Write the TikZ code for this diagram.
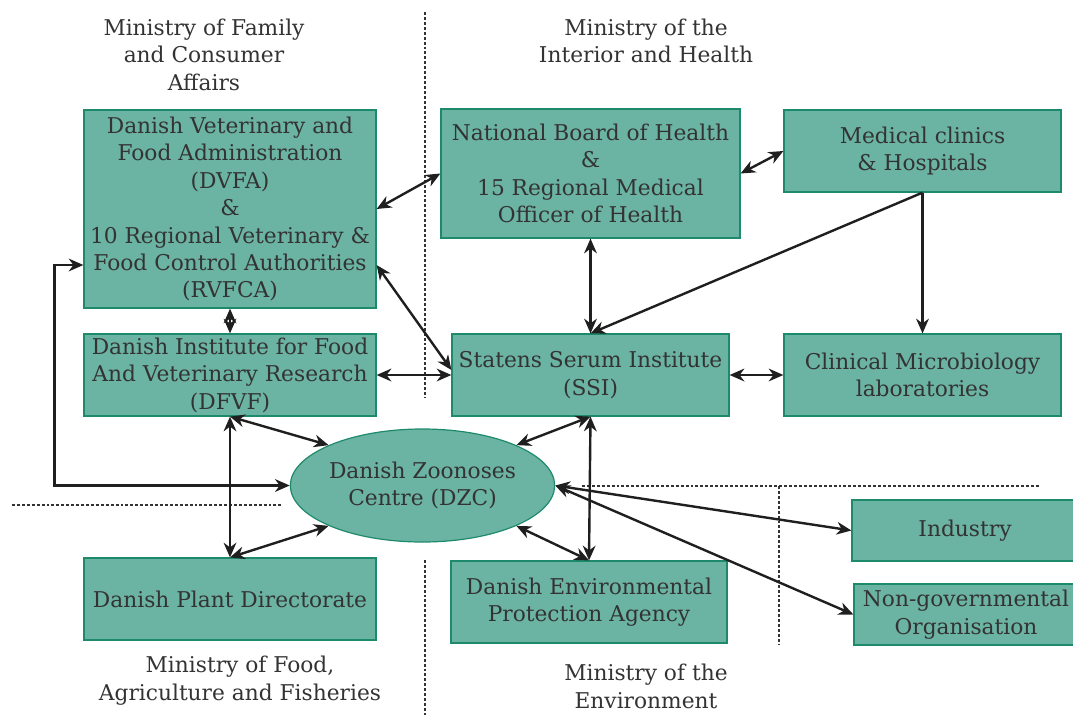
\documentclass[tikz,border=0pt]{standalone}
\usepackage{fontspec}
\setmainfont{DejaVu Serif}
\usetikzlibrary{arrows.meta,shapes.geometric,calc}
\definecolor{boxfill}{HTML}{6BB3A3}
\definecolor{boxline}{HTML}{1E8A6C}
\definecolor{txt}{HTML}{333333}
\tikzset{tip/.tip={Stealth[length=11pt,width=9.5pt,inset=3.5pt]}}
\begin{document}
\begin{tikzpicture}[x=0.75pt,y=-0.75pt,
  every node/.style={font=\fontsize{16.3}{20.6}\selectfont, text=txt, align=center, inner sep=0pt},
  org/.style 2 args={draw=boxline, line width=0.9pt, fill=boxfill, rectangle, minimum width={#1*0.75pt}, minimum height={#2*0.75pt}},
  conn/.style={line width=1.8pt, draw=black!88, tip-tip},
  oneway/.style={line width=1.8pt, draw=black!88, -tip},
  sep/.style={line width=0.9pt, draw=black!80, dash pattern=on 2.2pt off 1.5pt}]
\useasboundingbox (0,0) rectangle (1073,717);

% separators
\draw[sep] (425,12) coordinate (v1a) -- (425,398) coordinate (v1b);
\draw[sep] (425,560) coordinate (v2a) -- (425,715) coordinate (v2b);
\draw[sep] (12,505) coordinate (h1a) -- (283,505) coordinate (h1b);
\draw[sep] (582,486) coordinate (h2a) -- (1040,486) coordinate (h2b);
\draw[sep] (779,486) coordinate (v3a) -- (779,645) coordinate (v3b);

% ministries
\node (m1) at (204,54.5) {Ministry of Family\\and Consumer\\Affairs};
\node (m2) at (646,41) {Ministry of the\\Interior and Health};
\node (m3) at (240,680.5) {Ministry of Food,\\Agriculture and Fisheries};
\node (m4) at (646,686.5) {Ministry of the\\Environment};

% boxes
\node[org={292}{198}] (dvfa) at (230,209) {Danish Veterinary and\\Food Administration\\(DVFA)\\\&\\10 Regional Veterinary \&\\Food Control Authorities\\(RVFCA)};
\node[org={299}{129}] (nbh) at (590.5,173.5) {National Board of Health\\\&\\15 Regional Medical\\Officer of Health};
\node[org={277}{82}] (med) at (922.5,151) {Medical clinics\\\& Hospitals};
\node[org={292}{82}] (dfvf) at (230,375) {Danish Institute for Food\\And Veterinary Research\\(DFVF)};
\node[org={277}{82}] (ssi) at (590.5,375) {Statens Serum Institute\\(SSI)};
\node[org={277}{82}] (cml) at (922.5,375) {Clinical Microbiology\\laboratories};
\node[org={292}{82}] (plant) at (230,599) {Danish Plant Directorate};
\node[org={276}{82}] (depa) at (589,602) {Danish Environmental\\Protection Agency};
\node[org={224}{61}] (ind) at (964,530.5) {};
\node (indt) at (965,530.5) {Industry};
\node[org={222}{61}] (ngo) at (965,614.5) {};
\node (ngot) at (966,614.5) {Non-governmental\\Organisation};
\node[ellipse, draw=boxline, line width=0.9pt, fill=boxfill, minimum width={263*0.75pt}, minimum height={113*0.75pt}] (dzc) at (422.5,485.5) {Danish Zoonoses\\Centre (DZC)};

% connectors
\draw[conn] (dvfa.east) -- (nbh.west);
\draw[conn] (nbh.east) -- (med.west);
\draw[oneway] (med.south) -- (cml.north);
\draw[oneway] (med.south) -- (ssi.north);
\draw[conn] (nbh.south) -- (ssi.north);
\draw[conn] ([shift={(0,56)}]dvfa.east) -- ([shift={(0,-5)}]ssi.west);
\draw[conn] (dfvf.east) -- (ssi.west);
\draw[conn] (dvfa.south) -- (dfvf.north);
\draw[conn] (ssi.east) -- (cml.west);
\draw[conn] ([shift={(0,56)}]dvfa.west) -- ++(-29,0) |- (dzc.west);
\draw[conn] (dfvf.south) -- (plant.north);
\draw[conn] (dfvf.south) -- (dzc.north west);
\draw[conn] (plant.north) -- (dzc.south west);
\draw[conn] (dzc.north east) -- (ssi.south);
\draw[conn] (ssi.south) -- (depa.north);
\draw[conn] (dzc.south east) -- (depa.north);
\draw[conn] (dzc.east) -- (ind.west);
\draw[conn] (dzc.east) -- (ngo.west);
\end{tikzpicture}
\end{document}
